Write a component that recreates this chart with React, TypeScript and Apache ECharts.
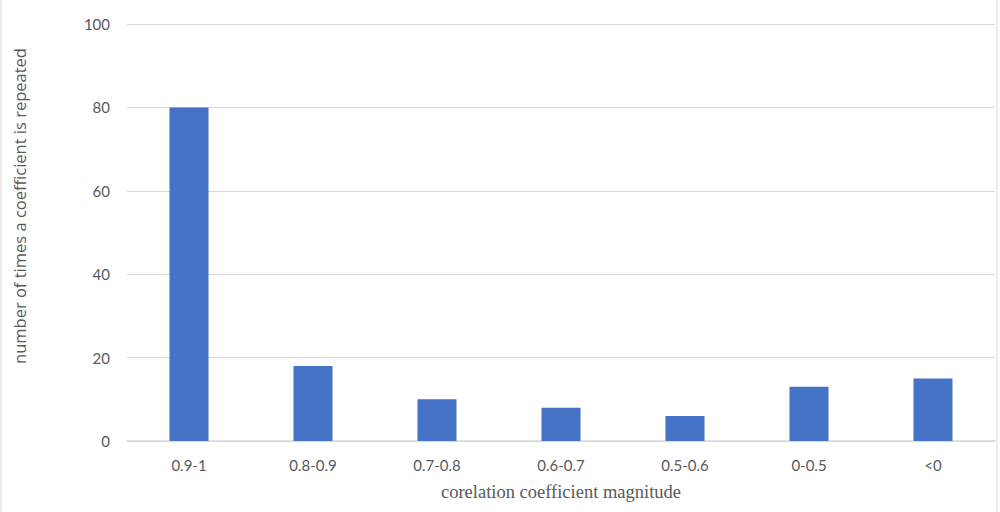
import React, { useEffect, useRef } from "react";
import * as echarts from "echarts";

const categories = ["0.9-1", "0.8-0.9", "0.7-0.8", "0.6-0.7", "0.5-0.6", "0-0.5", "<0"];
const counts = [80, 18, 10, 8, 6, 13, 15];
const yTicks = { min: 0, max: 100, interval: 20 };
const xTitle = "corelation coefficient magnitude";
const yTitle = "number of times a coefficient is repeated";

export default function App() {
  const ref = useRef<HTMLDivElement>(null);
  useEffect(() => {
    document.body.style.margin = "0";
    const chart = echarts.init(ref.current!, null, { renderer: "svg" });
    chart.setOption({
      animation: false,
      backgroundColor: "#ffffff",
      grid: { left: 127, right: 5, top: 24, bottom: 71, containLabel: false },
      xAxis: {
        type: "category",
        data: categories,
        name: xTitle,
        nameLocation: "middle",
        nameGap: 51,
        nameTextStyle: {
          color: "#595959",
          fontFamily: "Liberation Serif",
          fontSize: 18.5,
          verticalAlign: "middle",
        },
        axisLine: { lineStyle: { color: "#d9d9d9", width: 1.5 } },
        axisTick: { show: false },
        axisLabel: { color: "#595959", fontFamily: "Lato", fontSize: 15, margin: 16 },
      },
      yAxis: {
        type: "value",
        min: yTicks.min,
        max: yTicks.max,
        interval: yTicks.interval,
        axisLine: { show: false },
        axisTick: { show: false },
        splitLine: { lineStyle: { color: "#d9d9d9", width: 1 } },
        axisLabel: { color: "#595959", fontFamily: "Lato", fontSize: 15, margin: 17 },
      },
      series: [
        {
          type: "bar",
          data: counts,
          barWidth: 39,
          itemStyle: { color: "#4472c4" },
        },
      ],
      graphic: [
        {
          type: "rect",
          shape: { x: 1, y: -5, width: 996, height: 522 },
          style: { fill: "none", stroke: "#d9d9d9", lineWidth: 1 },
          silent: true,
        },
        {
          type: "text",
          x: 19,
          y: 206,
          rotation: Math.PI / 2,
          style: {
            text: yTitle,
            fill: "#595959",
            fontFamily: "Open Sans",
            fontSize: 16.5,
            textAlign: "center",
            textVerticalAlign: "middle",
          },
        },
      ],
    });
    return () => chart.dispose();
  }, []);
  return <div ref={ref} style={{ width: 1000, height: 512 }} />;
}
